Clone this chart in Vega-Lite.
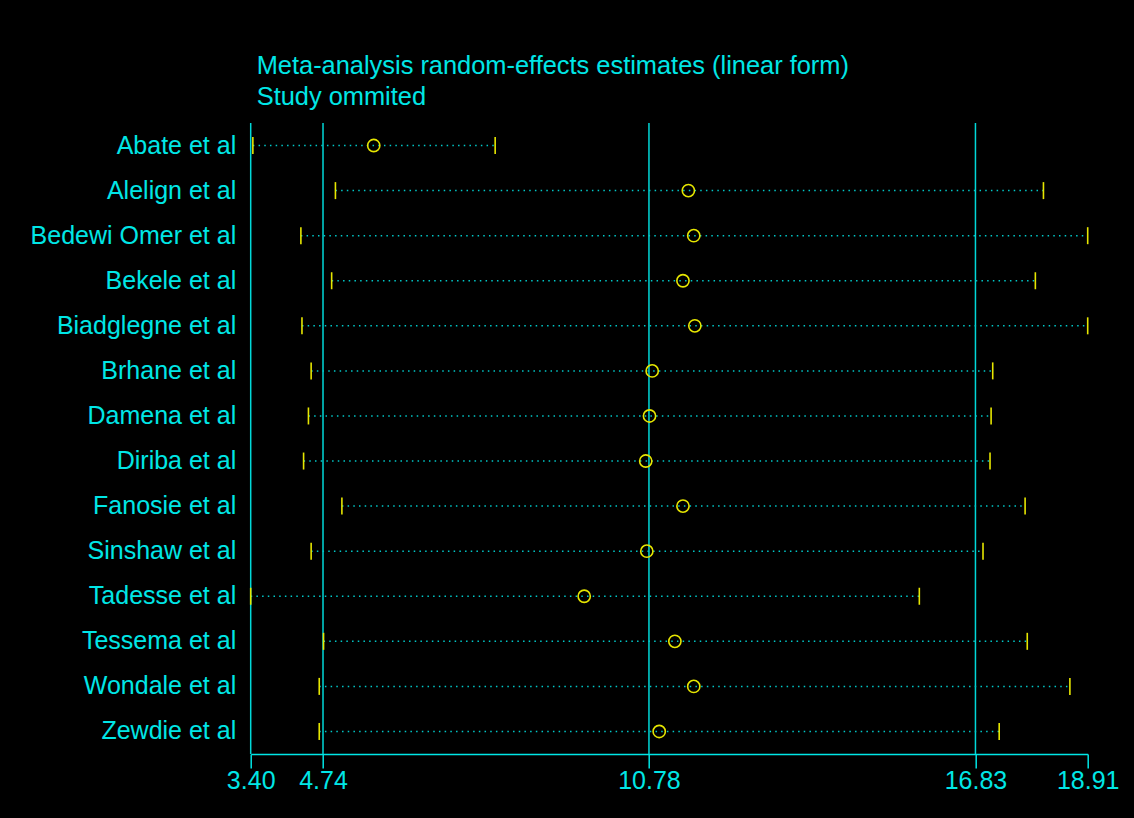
{
  "$schema": "https://vega.github.io/schema/vega-lite/v6.json",
  "width": 837,
  "height": 631,
  "autosize": {"type": "none"},
  "padding": {"left": 250.7, "top": 123, "right": 46.3, "bottom": 64},
  "background": "#000000",
  "title": {
    "text": ["Meta-analysis random-effects estimates (linear form)", "Study ommited"],
    "anchor": "start",
    "frame": "group",
    "orient": "top",
    "dx": 6,
    "offset": 12,
    "font": "Liberation Sans",
    "fontSize": 25.4,
    "fontWeight": "normal",
    "color": "#00e6e6",
    "lineHeight": 31
  },
  "datasets": {
    "studies": [
      {"study": "Abate et al", "lower": 3.44, "estimate": 5.68, "upper": 7.93},
      {"study": "Alelign et al", "lower": 4.97, "estimate": 11.51, "upper": 18.09},
      {"study": "Bedewi Omer et al", "lower": 4.33, "estimate": 11.61, "upper": 18.91},
      {"study": "Bekele et al", "lower": 4.90, "estimate": 11.41, "upper": 17.94},
      {"study": "Biadglegne et al", "lower": 4.35, "estimate": 11.63, "upper": 18.91},
      {"study": "Brhane et al", "lower": 4.52, "estimate": 10.84, "upper": 17.15},
      {"study": "Damena et al", "lower": 4.47, "estimate": 10.79, "upper": 17.12},
      {"study": "Diriba et al", "lower": 4.38, "estimate": 10.72, "upper": 17.10},
      {"study": "Fanosie et al", "lower": 5.09, "estimate": 11.41, "upper": 17.75},
      {"study": "Sinshaw et al", "lower": 4.52, "estimate": 10.74, "upper": 16.97},
      {"study": "Tadesse et al", "lower": 3.40, "estimate": 9.58, "upper": 15.79},
      {"study": "Tessema et al", "lower": 4.75, "estimate": 11.26, "upper": 17.79},
      {"study": "Wondale et al", "lower": 4.67, "estimate": 11.61, "upper": 18.58},
      {"study": "Zewdie et al", "lower": 4.67, "estimate": 10.97, "upper": 17.27}
    ],
    "refs": [
      {"value": 3.40},
      {"value": 4.74},
      {"value": 10.78},
      {"value": 16.83}
    ]
  },
  "layer": [
    {
      "data": {"name": "refs"},
      "mark": {"type": "rule", "color": "#00d8d8", "strokeWidth": 1.5},
      "encoding": {
        "x": {"field": "value", "type": "quantitative"}
      }
    },
    {
      "data": {"name": "studies"},
      "mark": {"type": "rule", "color": "#00c8c8", "strokeWidth": 1.5, "strokeDash": [1.5, 4.2]},
      "encoding": {
        "y": {"field": "study", "type": "nominal"},
        "x": {"field": "lower", "type": "quantitative"},
        "x2": {"field": "upper"}
      }
    },
    {
      "data": {"name": "studies"},
      "mark": {"type": "tick", "color": "#e6e600", "size": 17, "thickness": 1.6, "orient": "vertical", "opacity": 1},
      "encoding": {
        "y": {"field": "study", "type": "nominal"},
        "x": {"field": "lower", "type": "quantitative"}
      }
    },
    {
      "data": {"name": "studies"},
      "mark": {"type": "tick", "color": "#e6e600", "size": 17, "thickness": 1.6, "orient": "vertical", "opacity": 1},
      "encoding": {
        "y": {"field": "study", "type": "nominal"},
        "x": {"field": "upper", "type": "quantitative"}
      }
    },
    {
      "data": {"name": "studies"},
      "mark": {"type": "point", "shape": "circle", "filled": false, "color": "#e6e600", "size": 150, "strokeWidth": 1.6, "opacity": 1},
      "encoding": {
        "y": {"field": "study", "type": "nominal"},
        "x": {"field": "estimate", "type": "quantitative"}
      }
    }
  ],
  "encoding": {
    "x": {
      "type": "quantitative",
      "scale": {"domain": [3.40, 18.91], "nice": false, "zero": false},
      "axis": {
        "title": null,
        "values": [3.40, 4.74, 10.78, 16.83, 18.91],
        "format": ".2f",
        "grid": false,
        "domainColor": "#00e6e6",
        "domainWidth": 1.5,
        "tickColor": "#00e6e6",
        "tickWidth": 1.5,
        "tickSize": 14,
        "labelColor": "#00e6e6",
        "labelFont": "Liberation Sans",
        "labelFontSize": 25,
        "labelPadding": 0,
        "labelFlush": false,
        "labelOverlap": false
      }
    },
    "y": {
      "type": "nominal",
      "sort": null,
      "scale": {"paddingInner": 0, "paddingOuter": 0},
      "axis": {
        "title": null,
        "domain": false,
        "ticks": false,
        "grid": false,
        "labelColor": "#00e6e6",
        "labelFont": "Liberation Sans",
        "labelFontSize": 25,
        "labelPadding": 15,
        "labelLimit": 400
      }
    }
  },
  "config": {
    "view": {"stroke": null}
  }
}
